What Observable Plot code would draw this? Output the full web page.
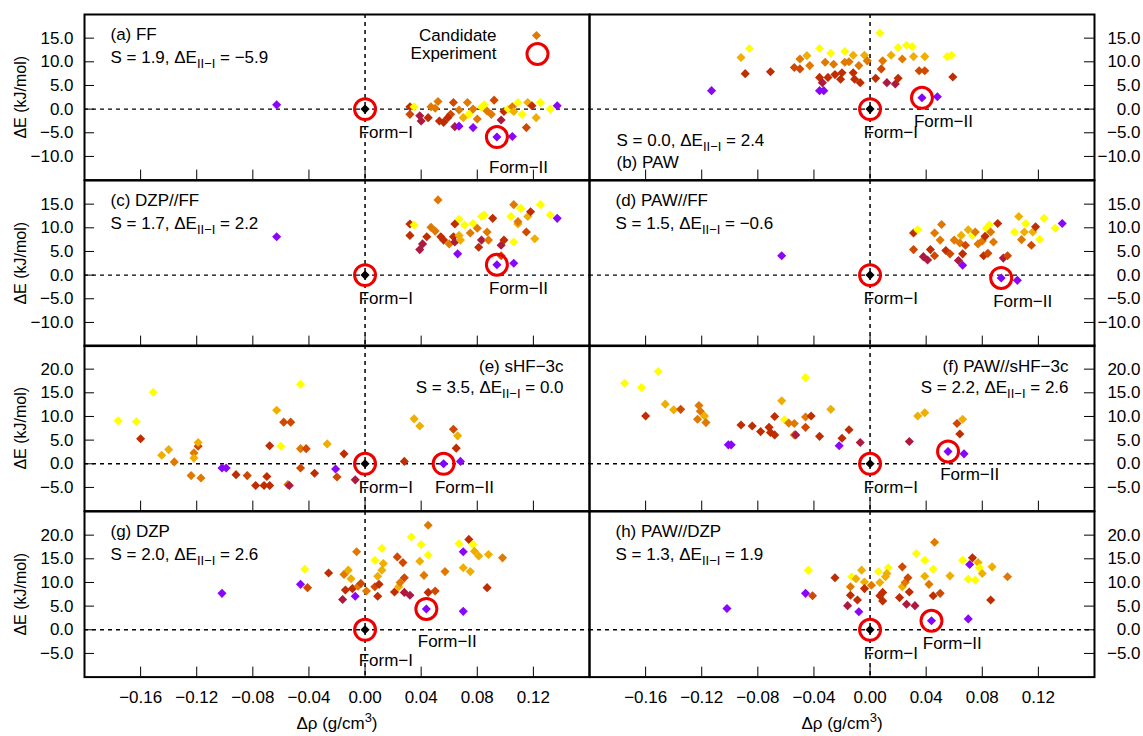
<!DOCTYPE html>
<html><head><meta charset="utf-8">
<script src="https://cdn.jsdelivr.net/npm/d3@7"></script>
<script src="https://cdn.jsdelivr.net/npm/@observablehq/plot@0.6"></script>
<style>
body{margin:0;background:#fff;}
#chart{position:relative;width:1143px;height:736px;overflow:hidden;background:#fff;font-family:"Liberation Sans",Arial,sans-serif;}
</style>
</head><body><div id="chart"></div>
<script>
// colour codes (palette position 0..1)
const cP = 0.29, cC = 0.46, cR = 0.56, cO1 = 0.66, cO2 = 0.78, cO3 = 0.88, cY = 1.0;

const letters = ["a","b","c","d","e","f","g","h"];
const methods = ["FF","PAW","DZP//FF","PAW//FF","sHF−3c","PAW//sHF−3c","DZP","PAW//DZP"];
const sValues = [1.9, 0.0, 1.7, 1.5, 3.5, 2.2, 2.0, 1.3];
const dEValues = [-5.9, 2.4, 2.2, -0.6, 0.0, 2.6, 2.6, 1.9];

const xTicks = [-0.16, -0.12, -0.08, -0.04, 0, 0.04, 0.08, 0.12];
const yTicksUpper = [-10, -5, 0, 5, 10, 15];
const yTicksLower = [-5, 0, 5, 10, 15, 20];

// Panel (a) FF
const aX = [-0.063,0.032,0.032,0.035,0.039,0.040,0.045,0.047,0.050,0.052,0.053,0.056,0.061,0.063,0.064,0.067,0.067,0.073,0.074,0.077,0.077,0.080,0.083,0.085,0.087,0.092,0.097,0.099,0.102,0.105,0.106,0.109,0.112,0.115,0.116,0.119,0.122,0.125,0.132,0.137,0.105,0.059,0.090,0.070];
const aY = [0.9,0.5,-1.1,0.5,-1.4,-2.5,-1.8,0.5,0.2,1.6,-2.5,-2.8,-1.1,1.4,-3.7,-3.6,-0.2,1.4,-1.1,-3.9,0.0,-2.1,0.4,0.9,-0.4,1.9,-2.3,-0.5,0.0,0.5,-0.5,1.4,-1.1,-3.9,1.4,0.7,-1.8,1.4,0.0,0.7,-5.8,-1.8,-1.1,-1.8];
const aC = [cP,cR,cO1,cY,cC,cC,cR,cO2,cO2,cO2,cR,cR,cO1,cO1,cC,cP,cO2,cO2,cY,cP,cO2,cO2,cY,cY,cO2,cO1,cC,cR,cY,cO2,cO3,cY,cY,cO1,cO3,cR,cO3,cY,cY,cP,cP,cR,cO2,cO3];

// Panel (b) PAW
const bX = [-0.113,-0.092,-0.086,-0.089,-0.071,-0.054,-0.050,-0.050,-0.045,-0.043,-0.036,-0.033,-0.036,-0.034,-0.036,-0.032,-0.030,-0.028,-0.026,-0.025,-0.021,-0.020,-0.018,-0.018,-0.015,-0.012,-0.011,-0.012,-0.008,-0.007,-0.004,-0.002,0.007,0.009,0.008,0.004,0.012,0.015,0.018,0.020,0.020,0.023,0.026,0.030,0.031,0.035,0.039,0.039,0.048,0.055,0.058,0.059];
const bY = [3.9,10.9,12.8,7.5,7.9,8.8,10.6,8.5,11.3,9.2,3.9,3.9,6.7,5.6,12.8,9.9,6.7,11.8,9.5,7.3,6.3,7.7,12.2,9.9,10.0,7.7,6.3,11.4,9.2,5.6,11.4,10.2,16.1,10.2,8.5,6.5,5.6,11.4,5.3,6.5,13.0,10.6,13.5,13.2,11.1,8.1,8.1,11.1,2.6,11.1,11.4,6.8];
const bC = [cP,cO3,cY,cR,cR,cO1,cO2,cO1,cO3,cO2,cP,cP,cR,cC,cY,cO2,cR,cY,cO2,cR,cR,cR,cY,cO2,cO2,cR,cR,cO3,cO2,cR,cO3,cO2,cY,cO2,cO1,cR,cC,cO3,cC,cR,cY,cO2,cY,cY,cO3,cO1,cO1,cO3,cP,cY,cY,cR];

// Panel (c) DZP//FF
const cX = [-0.063,0.032,0.032,0.035,0.039,0.041,0.044,0.047,0.050,0.052,0.054,0.056,0.060,0.063,0.064,0.066,0.067,0.064,0.067,0.068,0.071,0.075,0.077,0.080,0.081,0.083,0.083,0.085,0.087,0.088,0.091,0.097,0.097,0.099,0.104,0.106,0.106,0.106,0.109,0.111,0.115,0.116,0.118,0.121,0.125,0.132,0.137,0.109];
const cYv = [8.1,8.4,10.8,10.6,5.4,6.6,8.1,10.1,9.3,15.9,8.1,7.4,6.6,8.1,7.0,4.5,11.8,10.8,8.4,7.4,10.6,8.9,10.9,9.9,5.9,12.4,7.4,12.7,9.1,7.4,12.0,6.3,4.1,7.4,12.4,2.5,7.0,14.9,10.8,14.1,9.1,12.4,13.4,7.7,14.9,12.7,12.0,11.3];
const cCol = [cP,cR,cR,cY,cC,cC,cR,cO2,cO2,cO2,cR,cR,cO2,cR,cC,cP,cY,cR,cO3,cO3,cY,cO2,cY,cO2,cR,cY,cC,cY,cO2,cO2,cR,cC,cO1,cR,cY,cP,cY,cO2,cO3,cY,cO1,cO3,cR,cO3,cY,cY,cP,cO2];

// Panel (d) PAW//FF
const dX = [-0.063,0.031,0.034,0.031,0.038,0.041,0.043,0.046,0.046,0.050,0.051,0.054,0.057,0.060,0.063,0.066,0.065,0.064,0.066,0.068,0.070,0.073,0.075,0.077,0.080,0.081,0.082,0.083,0.085,0.086,0.088,0.084,0.091,0.095,0.098,0.105,0.103,0.106,0.108,0.111,0.110,0.115,0.116,0.118,0.121,0.124,0.132,0.137];
const dY = [4.1,8.9,9.6,5.4,3.9,3.2,5.4,4.1,8.9,7.4,10.7,5.2,4.5,7.4,3.1,2.1,8.4,6.8,4.5,6.3,9.6,8.4,9.1,6.6,7.2,4.1,8.2,9.9,10.6,9.1,7.0,4.6,10.9,3.6,4.1,-1.1,9.1,12.4,7.5,10.9,9.1,6.3,9.1,10.2,7.6,12.0,9.9,10.9];
const dC = [cP,cR,cY,cO1,cC,cC,cR,cO1,cO2,cO2,cO2,cR,cO1,cO2,cC,cP,cO3,cO2,cR,cO1,cO3,cY,cO2,cO2,cO2,cR,cR,cY,cY,cO2,cO2,cO1,cR,cC,cO1,cP,cY,cO3,cO2,cY,cO3,cO1,cO3,cR,cY,cY,cY,cP];

// Panel (e) sHF-3c
const eX = [-0.176,-0.163,-0.160,-0.151,-0.145,-0.140,-0.136,-0.124,-0.122,-0.122,-0.119,-0.119,-0.117,-0.102,-0.099,-0.092,-0.084,-0.078,-0.072,-0.070,-0.068,-0.068,-0.063,-0.060,-0.058,-0.053,-0.055,-0.054,-0.046,-0.046,-0.046,-0.042,-0.036,-0.027,-0.021,-0.020,-0.015,-0.007,0.028,0.035,0.039,0.063,0.065,0.066,0.068];
const eY = [9.1,8.9,5.3,15.1,1.8,3.0,0.4,-2.5,2.3,1.2,3.7,4.5,-3.0,-0.9,-0.9,-2.3,-2.5,-4.6,-4.6,-2.7,-4.6,3.8,11.3,3.7,8.8,8.8,-4.4,-4.6,3.2,-0.9,16.8,3.2,-2.0,4.2,-1.1,-2.8,2.1,-3.4,0.5,9.5,8.0,7.3,3.3,5.9,0.5];
const eC = [cY,cY,cR,cY,cO3,cO3,cO2,cO2,cO2,cO3,cO1,cO3,cO2,cP,cP,cR,cO1,cR,cR,cR,cR,cR,cO3,cY,cO1,cO1,cO2,cC,cO2,cO1,cY,cO1,cR,cO3,cP,cO1,cR,cC,cR,cO3,cO3,cO1,cR,cO3,cP];

// Panel (f) PAW//sHF-3c
const fX = [-0.175,-0.163,-0.151,-0.160,-0.146,-0.140,-0.135,-0.122,-0.121,-0.123,-0.118,-0.117,-0.101,-0.099,-0.092,-0.084,-0.078,-0.072,-0.071,-0.068,-0.068,-0.063,-0.061,-0.058,-0.054,-0.054,-0.053,-0.046,-0.046,-0.046,-0.042,-0.036,-0.028,-0.020,-0.022,-0.015,-0.007,0.028,0.034,0.039,0.062,0.066,0.064,0.067];
const fY = [17.0,16.1,19.5,10.1,12.6,11.4,11.5,12.3,11.1,9.4,10.1,8.7,4.0,4.0,8.2,8.0,6.8,7.7,6.6,6.1,10.0,13.3,9.3,8.6,8.5,6.1,6.1,18.2,9.9,7.7,10.1,5.8,11.5,5.4,3.8,7.2,4.5,4.7,10.1,10.8,8.5,9.4,6.3,2.1];
const fC = [cY,cY,cY,cR,cO3,cO3,cO1,cO2,cO2,cO2,cO3,cO2,cP,cP,cR,cR,cR,cR,cR,cR,cR,cO3,cY,cO2,cO2,cO2,cC,cY,cO2,cO1,cR,cR,cO3,cR,cP,cR,cC,cC,cO3,cO3,cO1,cO3,cR,cP];

// Panel (g) DZP
const gX = [-0.102,-0.046,-0.043,-0.041,-0.026,-0.016,-0.015,-0.014,-0.012,-0.010,-0.009,-0.007,-0.006,-0.005,-0.003,0.001,0.007,0.007,0.009,0.009,0.010,0.012,0.012,0.013,0.021,0.023,0.024,0.025,0.027,0.028,0.028,0.032,0.033,0.039,0.040,0.042,0.045,0.045,0.045,0.050,0.057,0.067,0.070,0.070,0.070,0.074,0.075,0.077,0.078,0.081,0.087,0.088,0.098];
const gY = [7.7,9.6,12.8,8.9,12.0,6.4,11.7,8.4,12.6,10.8,8.7,7.1,16.5,9.2,9.8,8.2,14.7,9.1,11.3,7.1,9.6,17.2,12.6,14.0,8.0,15.4,9.1,10.0,14.2,7.9,11.0,7.3,19.6,14.5,18.0,11.5,15.8,7.9,22.1,8.2,12.3,18.2,16.5,13.1,3.9,19.1,12.3,18.0,16.6,15.6,8.9,15.9,15.2];
const gC = [cP,cP,cY,cO1,cR,cC,cO2,cR,cO3,cO3,cR,cP,cO2,cO2,cO1,cO2,cY,cO1,cO3,cR,cR,cY,cO3,cO3,cR,cO1,cO3,cO2,cO1,cC,cO1,cC,cY,cO3,cY,cO2,cY,cR,cO2,cO1,cO2,cY,cP,cO3,cP,cR,cO3,cY,cO3,cO3,cR,cO3,cO2];

// Panel (h) PAW//DZP
const hX = [-0.102,-0.046,-0.044,-0.041,-0.025,-0.016,-0.014,-0.014,-0.013,-0.010,-0.009,-0.008,-0.006,-0.004,-0.004,0.001,0.006,0.007,0.007,0.009,0.009,0.011,0.013,0.012,0.021,0.023,0.023,0.025,0.026,0.027,0.028,0.032,0.033,0.039,0.039,0.042,0.045,0.045,0.046,0.050,0.057,0.066,0.070,0.071,0.070,0.073,0.075,0.077,0.078,0.080,0.086,0.087,0.098];
const hY = [4.5,7.7,12.6,7.2,11.0,5.1,9.1,7.3,11.2,10.8,6.3,3.8,12.6,10.1,8.7,9.4,12.3,10.0,7.2,7.9,6.1,11.2,13.1,11.9,6.8,13.3,9.1,10.0,5.4,11.0,8.0,5.1,16.1,11.3,14.7,9.6,12.8,7.2,18.5,7.7,11.4,14.7,10.7,13.8,2.3,15.2,10.5,14.2,13.1,11.9,6.3,13.3,11.2];
const hC = [cP,cP,cY,cO1,cR,cC,cO2,cR,cY,cO3,cR,cP,cO3,cO3,cR,cO2,cY,cO3,cR,cR,cR,cO3,cY,cO3,cR,cO1,cO3,cO2,cC,cO1,cR,cC,cY,cO3,cY,cO2,cY,cR,cO2,cO1,cO3,cY,cY,cP,cP,cR,cY,cO3,cY,cO3,cR,cO3,cO2];

// Experimental forms
const formIIX = [0.094, 0.037, 0.094, 0.0935, 0.056, 0.0556, 0.0437, 0.0438];
const formIIY = [-5.9, 2.4, 2.2, -0.6, 0.0, 2.6, 4.4, 1.9];
const formIIColor = 0.26;
const formIILabelX = [0.0884, 0.0313, 0.0884, 0.0878, 0.0498, 0.0500, 0.0376, 0.0376];
const formIILabelY = [-12.4, -2.7, -2.8, -5.5, -5.0, -2.3, -2.4, -2.9];
const formILabelX = -0.0045;
const formILabelY = [-5, -5, -5, -5, -5, -5, -6.4, -5];

const allX = [aX, bX, cX, dX, eX, fX, gX, hX];
const allY = [aY, bY, cYv, dY, eY, fY, gY, hY];
const allC = [aC, bC, cCol, dC, eC, fC, gC, hC];

// gnuplot default palette (rgbformulae 7,5,15)
function gnuplotPalette(t) {
  const r = Math.sqrt(t), g = t * t * t, b = Math.max(0, Math.min(1, Math.sin(2 * Math.PI * t)));
  return `rgb(${Math.round(255 * r)},${Math.round(255 * g)},${Math.round(255 * b)})`;
}

const fmt1 = d3.format(".1f");
const fmt2 = d3.format(".2f");
const FONT = '"Liberation Sans", Arial, Helvetica, sans-serif';

// turn "_{..}" into subscripts and "^{..}" into superscripts
function richText(svg) {
  const ns = "http://www.w3.org/2000/svg";
  svg.querySelectorAll("text").forEach(t => {
    const s = t.textContent;
    const m = s.match(/^(.*)([_^])\{(.*?)\}(.*)$/);
    if (!m) return;
    const shift = m[2] === "_" ? 5 : -7;
    while (t.firstChild) t.removeChild(t.firstChild);
    const a = document.createElementNS(ns, "tspan"); a.textContent = m[1];
    const b = document.createElementNS(ns, "tspan"); b.textContent = m[3];
    b.setAttribute("dy", String(shift)); b.setAttribute("font-size", "13px");
    const c = document.createElementNS(ns, "tspan"); c.textContent = m[4];
    c.setAttribute("dy", String(-shift));
    t.append(a, b, c);
  });
}

const FW = 505, FH = 165.6;
const chart = document.getElementById("chart");

for (let i = 0; i < 8; i++) {
  const col = i % 2, row = Math.floor(i / 2);
  const mL = col === 0 ? 84 : 0;
  const svgLeft = col === 0 ? 0 : 589;
  const top = 14 + row * FH;
  const isBottom = row === 3;
  const upper = row < 2;
  const yTicks = upper ? yTicksUpper : yTicksLower;
  const data = allX[i].map((x, j) => ({x, y: allY[i][j], c: allC[i][j]}));
  const line1 = `(${letters[i]}) ${methods[i]}`;
  const line2 = `S = ${fmt1(sValues[i])}, ΔE_{II−I} = ${fmt1(dEValues[i])}`;

  const marks = [
    Plot.ruleY([0], {stroke: "black", strokeWidth: 1.5, strokeDasharray: "4,4"}),
    Plot.ruleX([0], {stroke: "black", strokeWidth: 1.5, strokeDasharray: "4,4"}),
    Plot.tickX(xTicks, {x: d => d, insetTop: FH - 10, stroke: "black", strokeWidth: 1}),
    col === 0
      ? Plot.tickY(yTicks, {y: d => d, insetRight: FW - 10, stroke: "black", strokeWidth: 1})
      : Plot.tickY(yTicks, {y: d => d, insetLeft: FW - 10, stroke: "black", strokeWidth: 1}),
    col === 0
      ? Plot.axisY({ticks: yTicks, anchor: "left", tickSize: 0, tickPadding: 11, tickFormat: fmt1, label: null})
      : Plot.axisY({ticks: yTicks, anchor: "right", tickSize: 0, tickPadding: 46, textAnchor: "end", tickFormat: fmt1, label: null}),
    Plot.dot(data, {x: "x", y: "y", fill: "c", symbol: "diamond2", r: 4.1}),
    Plot.dot([{x: formIIX[i], y: formIIY[i], c: formIIColor}], {x: "x", y: "y", fill: "c", symbol: "diamond2", r: 4.1}),
    Plot.dot([{x: 0, y: 0}], {x: "x", y: "y", fill: "black", symbol: "diamond2", r: 4.1}),
    Plot.dot([{x: 0, y: 0}, {x: formIIX[i], y: formIIY[i]}], {x: "x", y: "y", r: 10.5, stroke: "#ee0000", strokeWidth: 3, fill: "none"}),
    Plot.text([{x: formILabelX, y: formILabelY[i]}], {x: "x", y: "y", text: () => "Form−I", textAnchor: "start", lineAnchor: "middle", fill: "black"}),
    Plot.text([{x: formIILabelX[i], y: formIILabelY[i]}], {x: "x", y: "y", text: () => "Form−II", textAnchor: "start", lineAnchor: "middle", fill: "black"}),
    Plot.frame({stroke: "black", strokeWidth: 2})
  ];

  // panel annotation
  if (i === 1) {
    marks.push(Plot.text([line2], {frameAnchor: "bottom-left", dx: 27, dy: -40, textAnchor: "start", lineAnchor: "middle", fill: "black"}));
    marks.push(Plot.text([line1], {frameAnchor: "bottom-left", dx: 27, dy: -18, textAnchor: "start", lineAnchor: "middle", fill: "black"}));
  } else if (i === 4 || i === 5) {
    marks.push(Plot.text([line1], {frameAnchor: "top-right", dx: -26, dy: 21, textAnchor: "end", lineAnchor: "middle", fill: "black"}));
    marks.push(Plot.text([line2], {frameAnchor: "top-right", dx: -26, dy: 42, textAnchor: "end", lineAnchor: "middle", fill: "black"}));
  } else {
    marks.push(Plot.text([line1], {frameAnchor: "top-left", dx: 26, dy: 20, textAnchor: "start", lineAnchor: "middle", fill: "black"}));
    marks.push(Plot.text([line2], {frameAnchor: "top-left", dx: 26, dy: 43, textAnchor: "start", lineAnchor: "middle", fill: "black"}));
  }

  // legend in panel (a)
  if (i === 0) {
    marks.push(Plot.text(["Candidate"], {frameAnchor: "top-left", dx: 412, dy: 21, textAnchor: "end", lineAnchor: "middle", fill: "black"}));
    marks.push(Plot.text(["Experiment"], {frameAnchor: "top-left", dx: 412, dy: 39.5, textAnchor: "end", lineAnchor: "middle", fill: "black"}));
    marks.push(Plot.dot([0], {frameAnchor: "top-left", dx: 452, dy: 21, symbol: "diamond2", r: 4.1, fill: gnuplotPalette(cO2)}));
    marks.push(Plot.dot([0], {frameAnchor: "top-left", dx: 453, dy: 39.5, r: 10.5, stroke: "#ee0000", strokeWidth: 3, fill: "none"}));
  }

  if (col === 0) {
    marks.push(Plot.text(["ΔE (kJ/mol)"], {frameAnchor: "left", dx: -64, rotate: -90, textAnchor: "middle", lineAnchor: "middle", fill: "black", fontSize: 16}));
  }
  if (isBottom) {
    marks.push(Plot.axisX({ticks: xTicks, tickSize: 0, tickPadding: 14, tickFormat: fmt2, label: null}));
    marks.push(Plot.text(["Δρ (g/cm^{3})"], {frameAnchor: "bottom", dy: 46, lineAnchor: "middle", fill: "black"}));
  }

  const svg = Plot.plot({
    width: mL + FW,
    height: FH,
    marginLeft: mL, marginRight: 0, marginTop: 0, marginBottom: 0,
    x: isBottom ? {domain: [-0.2, 0.16]} : {domain: [-0.2, 0.16], axis: null},
    y: {domain: upper ? [-15, 20] : [-10, 25]},
    color: {type: "linear", domain: [0, 1], interpolate: gnuplotPalette},
    style: {background: "transparent", overflow: "visible", fontSize: "17px", fontFamily: FONT, color: "black"},
    marks
  });
  richText(svg);
  svg.style.position = "absolute";
  svg.style.left = svgLeft + "px";
  svg.style.top = top + "px";
  svg.style.maxWidth = "none";
  chart.appendChild(svg);
}
</script>
</body></html>
